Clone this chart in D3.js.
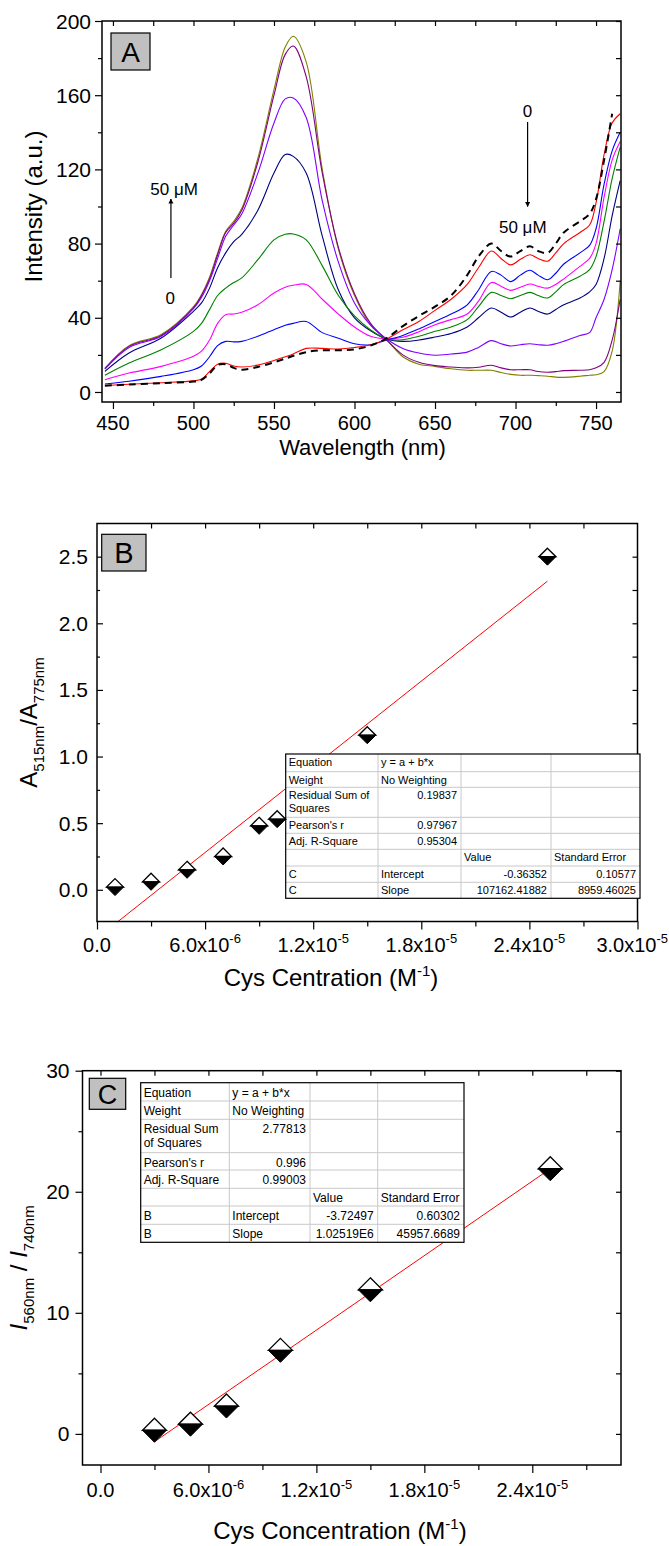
<!DOCTYPE html>
<html>
<head>
<meta charset="utf-8">
<script src="https://cdn.jsdelivr.net/npm/d3@7"></script>
<style>
  body { margin: 0; background: #fff; }
  svg { display: block; font-family: "Liberation Sans", Arial, Helvetica, sans-serif; }
</style>
</head>
<body>
<svg id="figure" width="669" height="1546"></svg>
<script>
// ---------- Panel A: spectra, 0 -> 50 uM Cys ----------
const WAVELENGTHS = [445, 460, 480, 500, 505, 510, 515, 520, 525, 530, 540, 550, 557, 562, 570, 580, 590, 600, 610, 620, 630, 640, 650, 660, 670, 677, 685, 691, 697, 703, 709, 714, 720, 725, 730, 740, 746, 750, 755, 760, 765];

const SPEC_0 = [3.4, 4, 4.8, 5.6, 6.5, 10, 14.5, 15, 13, 12, 13.5, 16, 18, 19.5, 21.5, 22.5, 22.5, 23, 25, 29, 35.5, 41, 46, 52, 63, 73, 80, 76, 73, 76, 78.5, 76, 75, 80, 86, 92, 96, 104, 125, 150, null];
const SPEC_1 = [3.5, 4.2, 5, 6, 7, 11, 15, 15.5, 14, 13.5, 14.5, 17, 19, 20.5, 23.5, 23.5, 23.2, 24, 25.5, 28.6, 33.5, 38, 44, 50, 58, 67, 76, 72, 68.5, 71.5, 74, 72, 70.5, 75, 80, 86, 90, 102, 128, 145, 150];
const SPEC_2 = [4.3, 5.8, 8.4, 12, 14, 19, 25, 27.3, 27, 27.3, 30, 33.6, 36, 37, 38, 32, 29, 26, 25.5, 28, 30.5, 34, 38, 42, 47, 55, 65, 63, 59.5, 63, 65.6, 63, 60.5, 64, 69, 75, 79, 88, 112, 130, 140];
const SPEC_3 = [6.6, 10.2, 13.8, 19.2, 22, 28, 37, 41.7, 42, 43, 47, 53.4, 56.5, 57.5, 58, 50, 42, 35, 30, 28.6, 29.5, 32.5, 36.3, 39, 42, 49, 59, 57, 54.8, 56.5, 58.2, 57, 56, 58, 61, 67.7, 72, 80, 105, 125, 135];
const SPEC_4 = [9, 15.6, 22.8, 32.7, 37, 44.4, 52, 56, 59, 61.5, 71.3, 82, 85, 85.2, 82, 68, 52, 41, 33.5, 28.6, 28.2, 30, 32.7, 35, 39, 46, 53.7, 52, 50.3, 52, 53.7, 52, 50.7, 54, 58, 62.4, 66, 73, 92, 115, 132];
const SPEC_5 = [11.1, 21, 29.1, 43.5, 48, 56, 67, 75, 81, 85, 98, 118, 128, 127, 118, 84, 55, 40, 33, 28.6, 27.3, 28, 29.6, 31.5, 35, 40, 45.3, 43, 40.4, 43, 45.3, 43.5, 42, 44.5, 47, 50.7, 54, 58, 72, 95, 114];
const SPEC_6 = [12.3, 24, 30, 45, 51, 60, 72, 84, 90, 96, 118, 145, 158, 158.5, 148, 103, 70, 48, 36, 28.6, 23.5, 21, 19.8, 20.5, 21.5, 24, 27.7, 26, 24.8, 25.5, 26, 25.5, 25.2, 26, 27.3, 30.5, 32, 40, 50, 66, 88];
const SPEC_7 = [12.6, 24.6, 30.5, 45.3, 52, 61, 74, 86, 91, 98, 124, 160, 182, 186.5, 170, 118, 78, 53, 37, 28, 20, 16, 14.2, 13.5, 13, 13.3, 14.4, 13, 12, 12, 12, 11, 10.6, 11, 11.5, 11.7, 12, 13, 16, 28, 50];
const SPEC_8 = [12.8, 25, 31, 46, 52.5, 62, 75, 86.6, 92, 99, 126, 163, 186, 191.8, 178, 120, 77, 52, 36, 28, 19, 15, 13.8, 12.5, 11.7, 11.7, 11.7, 10.5, 9.5, 9, 9, 8.8, 8.5, 8, 7.9, 8.5, 9, 9.3, 11, 22, 60];
const SPEC_COLORS = ['#000000', '#ff0000', '#0000ff', '#ff00ff', '#008000', '#000080', '#8000ff', '#800080', '#808000'];

const A_XTICKS = [450, 500, 550, 600, 650, 700, 750];
const A_YTICKS = [0, 40, 80, 120, 160, 200];

// ---------- Panel B: A515/A775 vs Cys ----------
const CYS_B = [1e-6, 3e-6, 5e-6, 7e-6, 9e-6, 1e-5, 1.5e-5, 2.5e-5];
const RATIO_B = [0.02, 0.06, 0.15, 0.25, 0.48, 0.53, 1.16, 2.50];
const FIT_B_X = [1e-6, 2.5e-5];
const FIT_B_Y = [-0.256, 2.316];
const B_XTICKS = [0, 6e-6, 1.2e-5, 1.8e-5, 2.4e-5, 3.0e-5];
const B_XTICK_MANT = ['0.0', '6.0x10', '1.2x10', '1.8x10', '2.4x10', '3.0x10'];
const B_XTICK_EXP = ['', '-6', '-5', '-5', '-5', '-5'];
const B_YTICKS = [0, 0.5, 1.0, 1.5, 2.0, 2.5];
const B_TABLE = [
  ['Equation', 'y = a + b*x', '', ''],
  ['Weight', 'No Weighting', '', ''],
  ['Residual Sum of\nSquares', '0.19837', '', ''],
  ["Pearson's r", '0.97967', '', ''],
  ['Adj. R-Square', '0.95304', '', ''],
  ['', '', 'Value', 'Standard Error'],
  ['C', 'Intercept', '-0.36352', '0.10577'],
  ['C', 'Slope', '107162.41882', '8959.46025']
];

// ---------- Panel C: I560/I740 vs Cys ----------
const CYS_C = [3e-6, 5e-6, 7e-6, 1e-5, 1.5e-5, 2.5e-5];
const RATIO_C = [0.3, 0.8, 2.3, 6.9, 11.9, 21.9];
const FIT_C_X = [3e-6, 2.5e-5];
const FIT_C_Y = [-0.65, 21.9];
const C_XTICKS = [0, 6e-6, 1.2e-5, 1.8e-5, 2.4e-5];
const C_XTICK_MANT = ['0.0', '6.0x10', '1.2x10', '1.8x10', '2.4x10'];
const C_XTICK_EXP = ['', '-6', '-5', '-5', '-5'];
const C_YTICKS = [0, 10, 20, 30];
const C_TABLE = [
  ['Equation', 'y = a + b*x', '', ''],
  ['Weight', 'No Weighting', '', ''],
  ['Residual Sum\nof Squares', '2.77813', '', ''],
  ["Pearson's r", '0.996', '', ''],
  ['Adj. R-Square', '0.99003', '', ''],
  ['', '', 'Value', 'Standard Error'],
  ['B', 'Intercept', '-3.72497', '0.60302'],
  ['B', 'Slope', '1.02519E6', '45957.6689']
];

const TICK_FS = 21;
const SCI_FS = 20;
const TITLE_FS = 24;
const PAGE_W = 669;

const svg = d3.select('#figure');
const defs = svg.append('defs');

defs.append('marker')
  .attr('id', 'arrowhead')
  .attr('viewBox', '0 0 10 10')
  .attr('refX', 9).attr('refY', 5)
  .attr('markerWidth', 5).attr('markerHeight', 7)
  .attr('markerUnits', 'userSpaceOnUse')
  .attr('orient', 'auto')
.append('path')
  .attr('d', 'M0,0 L10,5 L0,10 Z')
  .attr('fill', '#000');

// helpers ----------------------------------------------------------
function ticks(axis, tx, ty){
  svg.append('g')
    .attr('transform', 'translate(' + tx + ',' + ty + ')')
    .call(axis.tickFormat(''))
    .call(s => s.select('.domain').remove())
    .selectAll('line')
      .attr('stroke', '#000')
      .attr('stroke-width', 1.2);
}

function frame(box){
  svg.append('rect')
    .attr('x', box.left).attr('y', box.top)
    .attr('width', box.right - box.left)
    .attr('height', box.bottom - box.top)
    .attr('fill', 'none')
    .attr('stroke', '#000')
    .attr('stroke-width', 1.5);
}

function clip(id, box){
  defs.append('clipPath').attr('id', id)
    .append('rect')
      .attr('x', box.left).attr('y', box.top)
      .attr('width', box.right - box.left)
      .attr('height', box.bottom - box.top);
}

// parts: [text, kind] where kind is '', 'sup', 'sub' or 'i'
function rich(t, parts, base){
  let shift = 0;
  parts.forEach(([s, kind]) => {
    const target = kind === 'sup' ? -0.42 * base : kind === 'sub' ? 0.28 * base : 0;
    t.append('tspan')
      .attr('dy', target - shift)
      .attr('font-size', kind === 'sup' || kind === 'sub' ? Math.round(base * 0.64) : base)
      .attr('font-style', kind === 'i' ? 'italic' : null)
      .text(s);
    shift = target;
  });
  return t;
}

function panelLabel(letter, x, y, w, h, fs){
  svg.append('rect')
    .attr('x', x).attr('y', y).attr('width', w).attr('height', h)
    .attr('fill', '#c0c0c0').attr('stroke', '#000').attr('stroke-width', 1.2);
  svg.append('text')
    .attr('x', x + w / 2).attr('y', y + h / 2)
    .attr('dy', '0.36em')
    .attr('text-anchor', 'middle')
    .attr('font-size', fs)
    .text(letter);
}

function yLabels(scale, values, x, fmt){
  svg.selectAll(null)
    .data(values)
    .enter()
    .append('text')
      .attr('x', x)
      .attr('y', d => scale(d))
      .attr('dy', '0.36em')
      .attr('text-anchor', 'end')
      .attr('font-size', TICK_FS)
      .text(fmt);
}

function sciLabels(scale, values, mant, exps, y){
  values.forEach((v, i) => {
    const t = svg.append('text')
      .attr('x', scale(v))
      .attr('y', y)
      .attr('text-anchor', 'middle')
      .attr('font-size', SCI_FS);
    rich(t, exps[i] ? [[mant[i], ''], [exps[i], 'sup']] : [[mant[i], '']], SCI_FS);
    // keep the last label inside the page
    const bb = t.node().getBBox();
    if (bb.x + bb.width > PAGE_W - 1) t.attr('x', scale(v) - (bb.x + bb.width - PAGE_W + 1));
  });
}

function diamonds(xs, ys, x, y, w, h){
  const g = svg.append('g');
  xs.forEach((v, i) => {
    const cx = x(v), cy = y(ys[i]);
    g.append('path')
      .attr('d', 'M' + cx + ',' + (cy - h) + 'L' + (cx + w) + ',' + cy + 'L' + (cx - w) + ',' + cy + 'Z')
      .attr('fill', '#fff').attr('stroke', '#000').attr('stroke-width', 1.3);
    g.append('path')
      .attr('d', 'M' + (cx - w) + ',' + cy + 'L' + (cx + w) + ',' + cy + 'L' + cx + ',' + (cy + h) + 'Z')
      .attr('fill', '#000').attr('stroke', '#000').attr('stroke-width', 1);
  });
}

function fitLine(xs, ys, x, y, clipId){
  svg.append('path')
    .attr('clip-path', 'url(#' + clipId + ')')
    .attr('d', d3.line().x(d => x(d[0])).y(d => y(d[1]))(xs.map((v, i) => [v, ys[i]])))
    .attr('fill', 'none')
    .attr('stroke', '#ff0000')
    .attr('stroke-width', 1);
}

function table(rows, colX, rowY, fs, base, lineH){
  const g = svg.append('g').attr('font-size', fs);
  const W = colX[colX.length - 1] - colX[0];
  const H = rowY[rowY.length - 1] - rowY[0];
  g.append('rect').attr('x', colX[0]).attr('y', rowY[0]).attr('width', W).attr('height', H).attr('fill', '#fff');
  colX.slice(1, -1).forEach(cx => g.append('line')
    .attr('x1', cx).attr('x2', cx).attr('y1', rowY[0]).attr('y2', rowY[rowY.length - 1])
    .attr('stroke', '#c8c8c8').attr('stroke-width', 1));
  rowY.slice(1, -1).forEach(ry => g.append('line')
    .attr('x1', colX[0]).attr('x2', colX[colX.length - 1]).attr('y1', ry).attr('y2', ry)
    .attr('stroke', '#c8c8c8').attr('stroke-width', 1));
  g.append('rect').attr('x', colX[0]).attr('y', rowY[0]).attr('width', W).attr('height', H)
    .attr('fill', 'none').attr('stroke', '#000').attr('stroke-width', 1.2);
  rows.forEach((r, i) => r.forEach((cell, j) => {
    if (!cell) return;
    const num = /^-?[\d.]+(E\d+)?$/.test(cell);
    cell.split('\n').forEach((ln, k) => g.append('text')
      .attr('x', num ? colX[j + 1] - 4 : colX[j] + 3)
      .attr('y', rowY[i] + base + k * lineH)
      .attr('text-anchor', num ? 'end' : 'start')
      .text(ln));
  }));
}

// ======================= Panel A =======================
const A = {left: 102, top: 21, right: 621, bottom: 402};
const xA = d3.scaleLinear().domain([443.2, 765.5]).range([A.left, A.right]);
const yA = d3.scaleLinear().domain([-5.4, 200]).range([A.bottom, A.top]);
clip('clipA', A);

const specs = [SPEC_0, SPEC_1, SPEC_2, SPEC_3, SPEC_4, SPEC_5, SPEC_6, SPEC_7, SPEC_8];
const lineA = d3.line()
  .defined(d => d[1] != null)
  .x(d => xA(d[0]))
  .y(d => yA(d[1]))
  .curve(d3.curveCatmullRom.alpha(0.5));

const gA = svg.append('g').attr('clip-path', 'url(#clipA)');
for (let i = specs.length - 1; i >= 0; i--){
  gA.append('path')
    .attr('d', lineA(WAVELENGTHS.map((w, k) => [w, specs[i][k]])))
    .attr('fill', 'none')
    .attr('stroke', SPEC_COLORS[i])
    .attr('stroke-width', i === 0 ? 2 : 1.1)
    .attr('stroke-dasharray', i === 0 ? '7,5' : null);
}

ticks(d3.axisBottom(xA).tickValues(A_XTICKS).tickSizeInner(7).tickSizeOuter(0), 0, A.bottom);
ticks(d3.axisBottom(xA).tickValues(d3.range(475, 766, 50)).tickSizeInner(4).tickSizeOuter(0), 0, A.bottom);
ticks(d3.axisTop(xA).tickValues(d3.range(450, 766, 25)).tickSizeInner(-5).tickSizeOuter(0), 0, A.top);
ticks(d3.axisLeft(yA).tickValues(A_YTICKS).tickSizeInner(7).tickSizeOuter(0), A.left, 0);
ticks(d3.axisLeft(yA).tickValues(d3.range(20, 200, 40)).tickSizeInner(4).tickSizeOuter(0), A.left, 0);
ticks(d3.axisRight(yA).tickValues(d3.range(0, 201, 20)).tickSizeInner(-5).tickSizeOuter(0), A.right, 0);
frame(A);

svg.selectAll(null).data(A_XTICKS).enter().append('text')
  .attr('x', d => xA(d)).attr('y', A.bottom + 28)
  .attr('text-anchor', 'middle').attr('font-size', 20)
  .text(d => d);
yLabels(yA, A_YTICKS, A.left - 11, d => d);

svg.append('text')
  .attr('x', (A.left + A.right) / 2 + 1).attr('y', 455)
  .attr('text-anchor', 'middle').attr('font-size', 22)
  .text('Wavelength (nm)');
svg.append('text')
  .attr('transform', 'translate(42,' + ((A.top + A.bottom) / 2 - 5) + ') rotate(-90)')
  .attr('text-anchor', 'middle').attr('font-size', TITLE_FS)
  .text('Intensity (a.u.)');

panelLabel('A', 111, 33, 39, 37, 28);

// concentration arrows
svg.append('line')
  .attr('x1', xA(486)).attr('x2', xA(486))
  .attr('y1', yA(61.5)).attr('y2', yA(104))
  .attr('stroke', '#000').attr('stroke-width', 1.2)
  .attr('marker-end', 'url(#arrowhead)');
svg.append('text').attr('x', xA(488)).attr('y', yA(106))
  .attr('text-anchor', 'middle').attr('font-size', 17).text('50 \u03BCM');
svg.append('text').attr('x', xA(485.5)).attr('y', yA(47.4))
  .attr('text-anchor', 'middle').attr('font-size', 17).text('0');

svg.append('line')
  .attr('x1', xA(707.5)).attr('x2', xA(707.5))
  .attr('y1', yA(145.5)).attr('y2', yA(100))
  .attr('stroke', '#000').attr('stroke-width', 1.2)
  .attr('marker-end', 'url(#arrowhead)');
svg.append('text').attr('x', xA(707.5)).attr('y', yA(148.3))
  .attr('text-anchor', 'middle').attr('font-size', 17).text('0');
svg.append('text').attr('x', xA(704.5)).attr('y', yA(85.7))
  .attr('text-anchor', 'middle').attr('font-size', 17).text('50 \u03BCM');

// ======================= Panel B =======================
const B = {left: 97, top: 523.5, right: 637.5, bottom: 921.5};
const xB = d3.scaleLinear().domain([0, 3.0e-5]).range([B.left, B.right]);
const yB = d3.scaleLinear().domain([-0.238, 2.749]).range([B.bottom, B.top]);
clip('clipB', B);

fitLine(FIT_B_X, FIT_B_Y, xB, yB, 'clipB');

ticks(d3.axisBottom(xB).tickValues(B_XTICKS).tickSizeInner(8).tickSizeOuter(0), 0, B.bottom);
ticks(d3.axisBottom(xB).tickValues(d3.range(3e-6, 3e-5, 6e-6)).tickSizeInner(5).tickSizeOuter(0), 0, B.bottom);
ticks(d3.axisTop(xB).tickValues(d3.range(3e-6, 2.95e-5, 3e-6)).tickSizeInner(-5).tickSizeOuter(0), 0, B.top);
ticks(d3.axisLeft(yB).tickValues(B_YTICKS).tickSizeInner(-6).tickSizeOuter(0), B.left, 0);
ticks(d3.axisLeft(yB).tickValues(d3.range(0.25, 2.7, 0.5)).tickSizeInner(-3).tickSizeOuter(0), B.left, 0);
ticks(d3.axisRight(yB).tickValues(d3.range(0, 2.6, 0.25)).tickSizeInner(-5).tickSizeOuter(0), B.right, 0);
frame(B);

sciLabels(xB, B_XTICKS, B_XTICK_MANT, B_XTICK_EXP, B.bottom + 30);
yLabels(yB, B_YTICKS, B.left - 9, d => d.toFixed(1));

rich(svg.append('text')
  .attr('x', 331).attr('y', 986)
  .attr('text-anchor', 'middle').attr('font-size', TITLE_FS),
  [['Cys Centration (M', ''], ['-1', 'sup'], [')', '']], TITLE_FS);
rich(svg.append('text')
  .attr('transform', 'translate(37,' + ((B.top + B.bottom) / 2) + ') rotate(-90)')
  .attr('text-anchor', 'middle').attr('font-size', TITLE_FS),
  [['A', ''], ['515nm', 'sub'], ['/A', ''], ['775nm', 'sub']], TITLE_FS);

panelLabel('B', 101.7, 534.3, 44.3, 36.7, 29);

table(B_TABLE,
  [285.7, 378, 461, 551, 640],
  [754, 771.7, 787.3, 817.3, 833.3, 849.3, 866, 882.3, 898.3],
  11, 12, 13);

diamonds(CYS_B, RATIO_B, xB, yB, 8.5, 8.5);

// ======================= Panel C =======================
const C = {left: 82.5, top: 1070.7, right: 621, bottom: 1465};
const xC = d3.scaleLinear().domain([-1.0e-6, 2.893e-5]).range([C.left, C.right]);
const yC = d3.scaleLinear().domain([-2.57, 30]).range([C.bottom, C.top]);
clip('clipC', C);

fitLine(FIT_C_X, FIT_C_Y, xC, yC, 'clipC');

ticks(d3.axisBottom(xC).tickValues(C_XTICKS).tickSizeInner(8).tickSizeOuter(0), 0, C.bottom);
ticks(d3.axisBottom(xC).tickValues(d3.range(3e-6, 2.8e-5, 6e-6)).tickSizeInner(5).tickSizeOuter(0), 0, C.bottom);
ticks(d3.axisTop(xC).tickValues(d3.range(0, 2.8e-5, 3e-6)).tickSizeInner(-5).tickSizeOuter(0), 0, C.top);
ticks(d3.axisLeft(yC).tickValues(C_YTICKS).tickSizeInner(7).tickSizeOuter(0), C.left, 0);
ticks(d3.axisLeft(yC).tickValues([5, 15, 25]).tickSizeInner(4).tickSizeOuter(0), C.left, 0);
ticks(d3.axisRight(yC).tickValues(d3.range(0, 31, 5)).tickSizeInner(-5).tickSizeOuter(0), C.right, 0);
frame(C);

sciLabels(xC, C_XTICKS, C_XTICK_MANT, C_XTICK_EXP, C.bottom + 32);
yLabels(yC, C_YTICKS, C.left - 13, d => d);

rich(svg.append('text')
  .attr('x', 340).attr('y', 1539)
  .attr('text-anchor', 'middle').attr('font-size', TITLE_FS),
  [['Cys Concentration (M', ''], ['-1', 'sup'], [')', '']], TITLE_FS);
rich(svg.append('text')
  .attr('transform', 'translate(27,' + ((C.top + C.bottom) / 2) + ') rotate(-90)')
  .attr('text-anchor', 'middle').attr('font-size', TITLE_FS),
  [['I', 'i'], ['560nm', 'sub'], [' / ', ''], ['I', 'i'], ['740nm', 'sub']], TITLE_FS);

panelLabel('C', 89.3, 1078.3, 36.4, 31, 27);

table(C_TABLE,
  [140.7, 229.3, 310, 377.7, 464],
  [1082.7, 1101, 1119.3, 1152.7, 1170, 1188.3, 1206, 1224.3, 1242.3],
  12, 14, 14);

diamonds(CYS_C, RATIO_C, xC, yC, 12, 12);
</script>
</body>
</html>
